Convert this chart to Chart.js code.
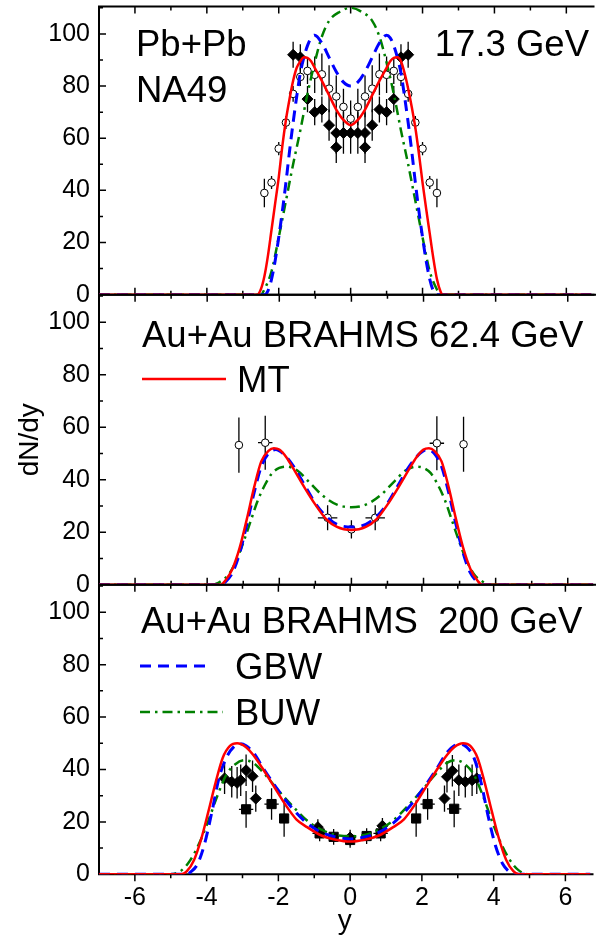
<!DOCTYPE html>
<html>
<head>
<meta charset="utf-8">
<script src="https://cdn.jsdelivr.net/npm/chart.js@4.4.0/dist/chart.umd.min.js"></script>
<style>
  html, body { margin: 0; padding: 0; background: #fff; }
  #wrap { position: relative; width: 598px; height: 939px; overflow: hidden; }
  #wrap canvas { position: absolute; left: 0; top: 0; }
</style>
</head>
<body>
<div id="wrap">
  <canvas id="c1" width="598" height="939"></canvas>
  <canvas id="c2" width="598" height="939"></canvas>
  <canvas id="c3" width="598" height="939"></canvas>
</div>
<script>
const fontFamily = '"Liberation Sans", Arial, Helvetica, sans-serif';

// axes
const xMin = -7, xMax = 6.7, yMin = 0, yMax = 110.5;
const xTicks = [-6, -4, -2, 0, 2, 4, 6];
const yTicks = [0, 20, 40, 60, 80, 100];

// ---- Pb+Pb NA49 17.3 GeV ----
const p1MtX = [-7, -2.6, -2.5, -2.4, -2.3, -2.2, -2.1, -2.0, -1.9, -1.8, -1.7, -1.6, -1.5, -1.4, -1.3, -1.2, -1.1, -1.0, -0.8, -0.6, -0.4, -0.2, 0, 0.2, 0.4, 0.6, 0.8, 1.0, 1.1, 1.2, 1.3, 1.4, 1.5, 1.6, 1.7, 1.8, 1.9, 2.0, 2.1, 2.2, 2.3, 2.4, 2.5, 2.56, 6.7];
const p1MtY = [0, 0, 2, 7, 15, 25, 35, 45, 57, 67, 75, 82, 87, 89.5, 91, 90.8, 89.5, 87, 82, 76.5, 71, 67, 65, 67, 71, 76.5, 82, 87, 89.5, 90.8, 91, 89.5, 85, 79, 72, 64, 54, 43, 33, 23.5, 14, 6, 1.2, 0, 0];
const p1GbwX = [-7, -2.4, -2.3, -2.2, -2.1, -2.0, -1.9, -1.8, -1.7, -1.6, -1.5, -1.4, -1.3, -1.2, -1.1, -1.0, -0.8, -0.6, -0.4, -0.2, 0, 0.2, 0.4, 0.6, 0.8, 1.0, 1.1, 1.2, 1.3, 1.4, 1.5, 1.6, 1.7, 1.8, 1.9, 2.0, 2.1, 2.2, 2.3, 2.4, 6.7];
const p1GbwY = [0, 0, 1.5, 6, 13, 22, 32, 43, 55, 66, 76, 85, 91, 95.5, 98.5, 99.5, 96.5, 91, 85.5, 81.5, 80, 81.5, 85.5, 91, 96.5, 99.5, 98.5, 95.5, 91, 85, 76, 66, 55, 43, 32, 22, 13, 6, 1.5, 0, 0];
const p1BuwX = [-7, -2.5, -2.4, -2.2, -2.0, -1.8, -1.6, -1.4, -1.2, -1.0, -0.8, -0.6, -0.3, 0, 0.3, 0.6, 0.8, 1.0, 1.2, 1.4, 1.6, 1.8, 2.0, 2.2, 2.4, 2.5, 6.7];
const p1BuwY = [0, 0, 2, 9, 22, 36, 50, 63, 77, 89, 99, 105, 108.5, 110, 108.5, 105, 99, 89, 77, 63, 50, 36, 22, 9, 2, 0, 0];
// open circles
const p1CircX = [-2.4, -2.2, -2.0, -1.8, -1.6, -1.4, -1.2, -1.0, -0.8, -0.6, -0.4, -0.2, 0, 0.2, 0.4, 0.6, 0.8, 1.0, 1.2, 1.4, 1.6, 1.8, 2.0, 2.2, 2.4];
const p1CircY = [39, 43, 56, 66, 77, 83.5, 85.8, 84.3, 84.5, 79, 76, 72, 67.5, 72, 76, 79, 84.5, 84.3, 85.8, 83.5, 77, 66, 56, 43, 39];
const p1CircErr = [5.5, 2.5, 2.5, 2.5, 3, 3.5, 5, 7, 8, 9, 8, 7, 7, 7, 8, 9, 8, 7, 5, 3.5, 3, 2.5, 2.5, 2.5, 5.5];
// filled diamonds
const p1DiaX = [-1.6, -1.4, -1.2, -1.0, -0.8, -0.6, -0.4, -0.4, -0.2, 0, 0.2, 0.4, 0.4, 0.6, 0.8, 1.0, 1.2, 1.4, 1.6];
const p1DiaY = [92, 91, 75, 70, 71, 65, 62, 56.5, 62, 62, 62, 62, 56.5, 65, 71, 70, 75, 91, 92];
const p1DiaErr = [5, 5, 5, 5, 5, 6, 8, 6, 8, 8, 8, 8, 6, 6, 5, 5, 5, 5, 5];

// ---- Au+Au BRAHMS 62.4 GeV ----
const p2MtX = [-7, -3.62, -3.5, -3.3, -3.1, -2.9, -2.7, -2.5, -2.3, -2.15, -2.0, -1.8, -1.6, -1.3, -1.0, -0.7, -0.4, 0, 0.4, 0.7, 1.0, 1.3, 1.6, 1.8, 2.0, 2.15, 2.3, 2.5, 2.7, 2.9, 3.1, 3.3, 3.5, 3.62, 6.7];
const p2MtY = [0, 0, 1.5, 6, 14, 25, 37, 47, 51, 52, 51.5, 48.5, 44, 37, 30.5, 25, 22, 20.8, 22, 25, 30.5, 37, 44, 48.5, 51.5, 52, 51, 47, 37, 25, 14, 6, 1.5, 0, 0];
const p2GbwX = [-7, -3.6, -3.5, -3.3, -3.1, -2.9, -2.7, -2.5, -2.3, -2.1, -1.9, -1.6, -1.3, -1.0, -0.7, -0.4, 0, 0.4, 0.7, 1.0, 1.3, 1.6, 1.9, 2.1, 2.3, 2.5, 2.7, 2.9, 3.1, 3.3, 3.5, 3.6, 6.7];
const p2GbwY = [0, 0, 1, 4.5, 12, 23, 35, 45, 50, 51.5, 50, 45, 38, 31, 26, 23, 22, 23, 26, 31, 38, 45, 50, 51.5, 50, 45, 35, 23, 12, 4.5, 1, 0, 0];
const p2BuwX = [-7, -3.85, -3.6, -3.4, -3.2, -3.0, -2.8, -2.6, -2.4, -2.2, -2.0, -1.8, -1.5, -1.2, -0.8, -0.4, 0, 0.4, 0.8, 1.2, 1.5, 1.8, 2.0, 2.2, 2.4, 2.6, 2.8, 3.0, 3.2, 3.4, 3.6, 3.85, 6.7];
const p2BuwY = [0, 0, 1.5, 4, 9, 16, 24, 32, 38, 42.5, 44.5, 45, 43.5, 39.5, 34, 30.5, 29.5, 30.5, 34, 39.5, 43.5, 45, 44.5, 42.5, 38, 32, 24, 16, 9, 4, 1.5, 0, 0];
const p2CircX = [-3.12, -2.39, -0.66, 0, 0.66, 2.37, 3.11];
const p2CircY = [53.2, 54.1, 25.5, 21.1, 25.5, 53.9, 53.5];
const p2CircErr = [10.5, 10.3, 4.8, 3.5, 4.8, 10.3, 10.5];
const p2CircXErr = [0, 0.2, 0.27, 0, 0.27, 0.2, 0];

// ---- Au+Au BRAHMS 200 GeV ----
const p3MtX = [-7, -4.7, -4.55, -4.35, -4.15, -3.95, -3.75, -3.55, -3.35, -3.15, -2.9, -2.7, -2.4, -2.1, -1.8, -1.5, -1.2, -0.8, -0.4, 0, 0.4, 0.8, 1.2, 1.5, 1.8, 2.1, 2.4, 2.7, 2.9, 3.15, 3.35, 3.55, 3.75, 3.95, 4.15, 4.35, 4.55, 4.7, 6.7];
const p3MtY = [0, 0, 1.2, 5.5, 13.5, 24, 35, 44.5, 49, 50, 48.5, 45.5, 39.5, 33, 26.5, 21, 18, 14.8, 13.2, 12.5, 13.2, 14.8, 18, 21, 26.5, 33, 39.5, 45.5, 48.5, 50, 49, 44.5, 35, 24, 13.5, 5.5, 1.2, 0, 0];
const p3GbwX = [-7, -4.55, -4.45, -4.25, -4.05, -3.85, -3.65, -3.45, -3.25, -3.05, -2.9, -2.7, -2.4, -2.0, -1.6, -1.2, -0.8, -0.4, 0, 0.4, 0.8, 1.2, 1.6, 2.0, 2.4, 2.7, 2.9, 3.05, 3.25, 3.45, 3.65, 3.85, 4.05, 4.25, 4.45, 4.55, 6.7];
const p3GbwY = [0, 0, 0.8, 4, 12, 24, 37, 44.5, 48.5, 49.8, 49, 46.5, 40, 32, 25, 19.5, 16, 14.2, 13.5, 14.2, 16, 19.5, 25, 32, 40, 46.5, 49, 49.8, 48.5, 44.5, 35, 22, 11, 4, 0.8, 0, 0];
const p3BuwX = [-7, -5.0, -4.7, -4.45, -4.2, -3.95, -3.7, -3.45, -3.2, -2.95, -2.7, -2.4, -2.0, -1.6, -1.2, -0.8, -0.4, 0, 0.4, 0.8, 1.2, 1.6, 2.0, 2.4, 2.7, 2.95, 3.2, 3.45, 3.7, 3.95, 4.2, 4.45, 4.7, 5.0, 6.7];
const p3BuwY = [0, 0, 1.5, 5.5, 12, 20.5, 30, 38, 42, 43.5, 42.5, 38.5, 32, 26, 20.5, 17, 15, 14.5, 15, 17, 20.5, 26, 32, 38.5, 42.5, 43.5, 42, 38, 30, 20.5, 12, 5.5, 1.5, 0, 0];
const p3DiaX = [-3.5, -3.3, -3.15, -3.05, -2.9, -2.72, -2.63, -0.9, 0, 0.9, 2.63, 2.7, 2.85, 3.03, 3.21, 3.4, 3.53];
const p3DiaY = [36.6, 35.3, 34.9, 35.9, 39.7, 37.4, 28.9, 18, 14, 18.5, 28.9, 37.2, 39.5, 35.9, 35.3, 35.9, 36.6];
const p3DiaErr = [6, 6, 6, 6, 6, 6, 5, 3, 3, 3, 5, 6, 6, 6, 6, 6, 6];
const p3SqX = [-2.9, -2.19, -1.84, -0.85, -0.46, 0, 0.46, 0.85, 1.84, 2.16, 2.9];
const p3SqY = [24.8, 26.8, 21.3, 15.6, 14.3, 13.1, 14.6, 15.6, 21.3, 26.8, 25];
const p3SqErr = [7, 6, 7, 3, 3, 3, 3, 3, 7, 6, 7];
const p3SqXErr = [0.2, 0.2, 0, 0.2, 0.15, 0.15, 0.15, 0.2, 0, 0.2, 0.2];

// line styles
const mtStyle = { color: '#ff0000', width: 2.5, dash: [] };
const gbwStyle = { color: '#0000ff', width: 3, dash: [11, 7] };
const buwStyle = { color: '#008000', width: 2.5, dash: [10, 5, 2.5, 5] };

function pts(xs, ys) {
  return xs.map((x, i) => ({ x: x, y: ys[i] }));
}

function curve(label, xs, ys, st) {
  return {
    label: label,
    data: pts(xs, ys),
    showLine: true,
    borderColor: st.color,
    borderWidth: st.width,
    borderDash: st.dash,
    pointRadius: 0,
    cubicInterpolationMode: 'monotone',
    fill: false
  };
}

function marks(label, xs, ys, yErr, xErr, shape, radius, filled) {
  return {
    label: label,
    data: pts(xs, ys),
    showLine: false,
    pointStyle: shape,
    pointRadius: radius,
    pointBackgroundColor: filled ? '#000' : '#fff',
    pointBorderColor: '#000',
    pointBorderWidth: 1,
    yErr: yErr,
    xErr: xErr
  };
}

// frame + inward tick marks
const framePlugin = {
  id: 'frame',
  beforeDatasetsDraw(chart, args, opts) {
    const { ctx, chartArea: a, scales: { x, y } } = chart;
    ctx.save();
    ctx.strokeStyle = '#000';
    ctx.lineWidth = 2;
    ctx.beginPath();
    ctx.moveTo(a.right + 3, a.top);
    ctx.lineTo(a.left, a.top);
    ctx.lineTo(a.left, a.bottom);
    ctx.lineTo(a.right + 3, a.bottom);
    ctx.stroke();
    ctx.lineWidth = 1.5;
    ctx.beginPath();
    for (let v = 10; v <= 110; v += 10) {
      const py = y.getPixelForValue(v);
      const len = v % 20 === 0 ? 7 : 4;
      ctx.moveTo(a.left, py);
      ctx.lineTo(a.left + len, py);
    }
    for (let v = -6; v <= 6; v++) {
      const px = x.getPixelForValue(v);
      const len = v % 2 === 0 ? 7 : 4;
      ctx.moveTo(px, a.top);
      ctx.lineTo(px, a.top + len);
      ctx.moveTo(px, a.bottom);
      ctx.lineTo(px, opts.outBottom ? a.bottom + len : a.bottom - len);
    }
    ctx.stroke();
    ctx.restore();
  }
};

const errorBarPlugin = {
  id: 'errorBars',
  beforeDatasetsDraw(chart) {
    const { ctx, chartArea: a, scales: { x, y } } = chart;
    ctx.save();
    ctx.beginPath();
    ctx.rect(a.left, a.top, a.right - a.left, a.bottom - a.top);
    ctx.clip();
    ctx.strokeStyle = '#000';
    ctx.lineWidth = 1.3;
    chart.data.datasets.forEach(ds => {
      if (!ds.yErr) return;
      ds.data.forEach((p, i) => {
        const px = x.getPixelForValue(p.x);
        const py = y.getPixelForValue(p.y);
        const e = ds.yErr[i] || 0;
        const ex = ds.xErr ? (ds.xErr[i] || 0) : 0;
        ctx.beginPath();
        ctx.moveTo(px, y.getPixelForValue(p.y - e));
        ctx.lineTo(px, y.getPixelForValue(p.y + e));
        if (ex) {
          ctx.moveTo(x.getPixelForValue(p.x - ex), py);
          ctx.lineTo(x.getPixelForValue(p.x + ex), py);
        }
        ctx.stroke();
      });
    });
    ctx.restore();
  }
};

// panel labels and legend entries
const textPlugin = {
  id: 'panelText',
  afterDraw(chart, args, opts) {
    const ctx = chart.ctx;
    ctx.save();
    ctx.fillStyle = '#000';
    ctx.font = '36.5px ' + fontFamily;
    ctx.textBaseline = 'alphabetic';
    (opts.items || []).forEach(t => {
      ctx.textAlign = t.align || 'left';
      ctx.fillText(t.text, t.x, t.y);
    });
    (opts.lines || []).forEach(l => {
      ctx.strokeStyle = l.style.color;
      ctx.lineWidth = l.style.width;
      ctx.setLineDash(l.style.dash);
      ctx.beginPath();
      ctx.moveTo(l.x1, l.y);
      ctx.lineTo(l.x2, l.y);
      ctx.stroke();
    });
    ctx.restore();
  }
};

function makePanel(id, top, bottom, datasets, cfg) {
  const showX = !!cfg.showX;
  return new Chart(document.getElementById(id), {
    type: 'scatter',
    data: { datasets: datasets },
    plugins: [framePlugin, errorBarPlugin, textPlugin],
    options: {
      responsive: false,
      animation: false,
      events: [],
      layout: { padding: { top: top, bottom: bottom, left: 0, right: 0 } },
      plugins: {
        legend: { display: false },
        tooltip: { enabled: false },
        frame: { outBottom: showX },
        panelText: { items: cfg.items, lines: cfg.lines }
      },
      scales: {
        x: {
          type: 'linear',
          min: xMin,
          max: xMax,
          display: showX,
          grid: { display: false, drawTicks: false },
          border: { display: false },
          afterBuildTicks: s => { s.ticks = xTicks.map(v => ({ value: v })); },
          afterFit: s => {
            if (showX) s.height = 64.7;
            s.paddingLeft = 0;
            s.paddingRight = 0;
          },
          ticks: {
            padding: 9,
            maxRotation: 0,
            autoSkip: false,
            color: '#000',
            font: { family: fontFamily, size: 25 },
            callback: v => String(v)
          },
          title: {
            display: showX,
            text: 'y',
            color: '#000',
            font: { family: fontFamily, size: 28 },
            padding: { top: 0, bottom: 1 }
          }
        },
        y: {
          type: 'linear',
          min: yMin,
          max: yMax,
          grid: { display: false, drawTicks: false },
          border: { display: false },
          afterBuildTicks: s => { s.ticks = yTicks.map(v => ({ value: v })); },
          afterFit: s => { s.width = 99; s.paddingTop = 0; s.paddingBottom = 0; },
          ticks: {
            padding: 9,
            color: '#000',
            font: { family: fontFamily, size: 25 },
            callback: v => String(v)
          },
          title: {
            display: !!cfg.yTitle,
            text: 'dN/dy',
            color: '#000',
            font: { family: fontFamily, size: 28 },
            padding: { top: 13, bottom: 0 }
          }
        }
      }
    }
  });
}

makePanel('c1', 5, 939 - 294.7, [
  curve('MT', p1MtX, p1MtY, mtStyle),
  curve('GBW', p1GbwX, p1GbwY, gbwStyle),
  curve('BUW', p1BuwX, p1BuwY, buwStyle),
  marks('NA49 open', p1CircX, p1CircY, p1CircErr, null, 'circle', 3.8, false),
  marks('NA49 filled', p1DiaX, p1DiaY, p1DiaErr, null, 'rectRot', 5.5, true)
], {
  items: [
    { text: 'Pb+Pb', x: 136, y: 56 },
    { text: 'NA49', x: 136, y: 102 },
    { text: '17.3 GeV', x: 589, y: 56, align: 'right' }
  ],
  lines: []
});

makePanel('c2', 294.7, 939 - 584.7, [
  curve('MT', p2MtX, p2MtY, mtStyle),
  curve('GBW', p2GbwX, p2GbwY, gbwStyle),
  curve('BUW', p2BuwX, p2BuwY, buwStyle),
  marks('BRAHMS', p2CircX, p2CircY, p2CircErr, p2CircXErr, 'circle', 3.8, false)
], {
  yTitle: true,
  items: [
    { text: 'Au+Au BRAHMS 62.4 GeV', x: 142, y: 347 },
    { text: 'MT', x: 237, y: 392 }
  ],
  lines: [{ x1: 142, x2: 226, y: 379, style: mtStyle }]
});

makePanel('c3', 584.7, 0, [
  curve('MT', p3MtX, p3MtY, mtStyle),
  curve('GBW', p3GbwX, p3GbwY, gbwStyle),
  curve('BUW', p3BuwX, p3BuwY, buwStyle),
  marks('BRAHMS diamonds', p3DiaX, p3DiaY, p3DiaErr, null, 'rectRot', 5.5, true),
  marks('BRAHMS squares', p3SqX, p3SqY, p3SqErr, p3SqXErr, 'rect', 6.5, true)
], {
  showX: true,
  items: [
    { text: 'Au+Au BRAHMS  200 GeV', x: 141, y: 633 },
    { text: 'GBW', x: 235, y: 679 },
    { text: 'BUW', x: 235, y: 725 }
  ],
  lines: [
    { x1: 140, x2: 205, y: 666, style: gbwStyle },
    { x1: 140, x2: 223, y: 712, style: buwStyle }
  ]
});
</script>
</body>
</html>
